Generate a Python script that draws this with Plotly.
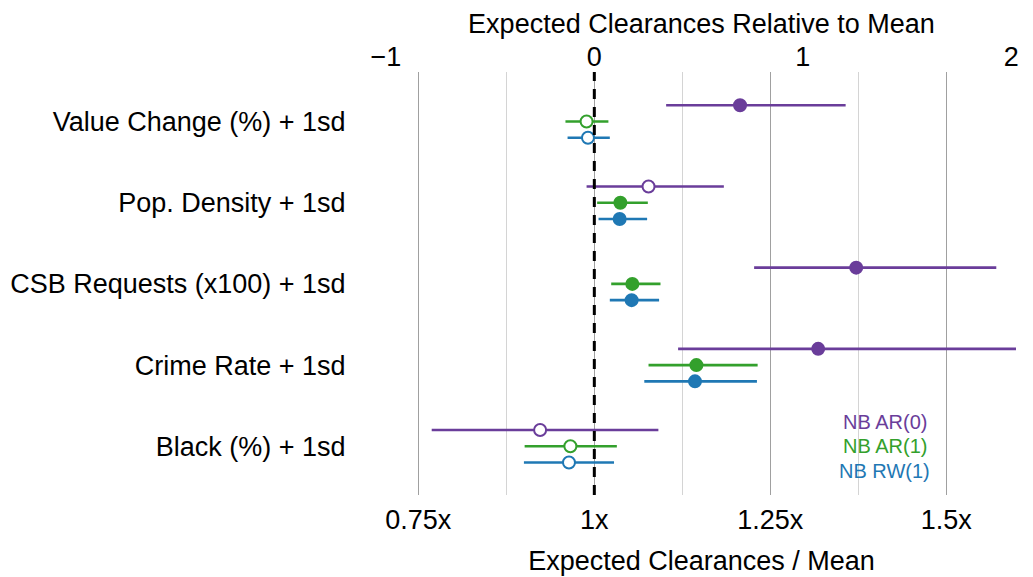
import plotly.graph_objects as go

variables = ["Value Change (%) + 1sd", "Pop. Density + 1sd", "CSB Requests (x100) + 1sd",
             "Crime Rate + 1sd", "Black (%) + 1sd"]
models = ["NB AR(0)", "NB AR(1)", "NB RW(1)"]
colors = ["#6a3d9a", "#33a02c", "#1f78b4"]

ar0_est = [1.207, 1.077, 1.372, 1.318, 0.923]
ar0_lo = [1.102, 0.989, 1.227, 1.119, 0.769]
ar0_hi = [1.357, 1.184, 1.571, 1.599, 1.091]

ar1_est = [0.989, 1.037, 1.054, 1.145, 0.966]
ar1_lo = [0.959, 1.004, 1.024, 1.077, 0.901]
ar1_hi = [1.020, 1.076, 1.094, 1.232, 1.032]

rw1_est = [0.991, 1.036, 1.053, 1.143, 0.964]
rw1_lo = [0.962, 1.006, 1.022, 1.071, 0.900]
rw1_hi = [1.022, 1.075, 1.092, 1.231, 1.028]

bottom_ticks = [0.75, 1.0, 1.25, 1.5]
bottom_labels = ["0.75x", "1x", "1.25x", "1.5x"]
top_ticks = [-1, 0, 1, 2]
top_labels = ["\u22121", "0", "1", "2"]

FONT = "Liberation Sans, Arial, Helvetica, sans-serif"
FS = 27

series = [(ar0_est, ar0_lo, ar0_hi), (ar1_est, ar1_lo, ar1_hi), (rw1_est, rw1_lo, rw1_hi)]
offsets = [-0.2, 0.0, 0.2]

fig = go.Figure()
for m, (est, lo, hi), col, off in zip(models, series, colors, offsets):
    ys = [i + off for i in range(len(variables))]
    fills = [col if (l > 1 or h < 1) else "white" for l, h in zip(lo, hi)]
    fig.add_trace(go.Scatter(
        x=est, y=ys, mode="markers", name=m, showlegend=False,
        error_x=dict(type="data", symmetric=False,
                     array=[h - e for h, e in zip(hi, est)],
                     arrayminus=[e - l for e, l in zip(est, lo)],
                     color=col, thickness=2.6, width=0),
        marker=dict(size=12, color=fills, line=dict(color=col, width=2)),
        xaxis="x", yaxis="y", cliponaxis=False,
    ))

# top-axis scale: 1 unit top = k units bottom, 0 top = 1x bottom
k = 0.2962
xr = [0.6984, 1.6061]
xr2 = [(xr[0] - 1) / k, (xr[1] - 1) / k]

fig.add_trace(go.Scatter(x=[0], y=[0], xaxis="x2", yaxis="y", mode="markers",
                         marker=dict(opacity=0), showlegend=False, hoverinfo="skip"))

fig.add_shape(type="line", xref="x", yref="paper", x0=1, x1=1, y0=0, y1=1,
              line=dict(color="black", width=3, dash="10px,8px"), layer="above")

legend_y = [0.1732, 0.115, 0.0567]
for m, col, ly in zip(models, colors, legend_y):
    fig.add_annotation(text=m, x=0.7864, y=ly, xref="paper", yref="paper",
                       showarrow=False, xanchor="center", yanchor="middle",
                       font=dict(family=FONT, size=20, color=col))

fig.update_layout(
    width=1033, height=577,
    margin=dict(l=382, r=12, t=72, b=82, autoexpand=False),
    paper_bgcolor="white", plot_bgcolor="white",
    font=dict(family=FONT, size=FS, color="black"),
    xaxis=dict(range=xr, tickvals=bottom_ticks, ticktext=bottom_labels, automargin=False,
               showgrid=True, gridcolor="#a0a0a0", gridwidth=1,
               minor=dict(tick0=0.75, dtick=0.125, showgrid=True, gridcolor="#d4d4d4", gridwidth=1),
               zeroline=False, showline=False, ticks="outside", ticklen=1,
               tickcolor="rgba(0,0,0,0)",
               title=dict(text="Expected Clearances / Mean", standoff=16,
                          font=dict(family=FONT, size=FS))),
    xaxis2=dict(range=xr2, overlaying="x", side="top", anchor="y", automargin=False,
                tickvals=top_ticks, ticktext=top_labels, showgrid=False,
                zeroline=False, showline=False, ticks="", 
                title=dict(text="Expected Clearances Relative to Mean", standoff=0,
                           font=dict(family=FONT, size=FS))),
    yaxis=dict(range=[4.6, -0.61], tickvals=list(range(len(variables))), automargin=False,
               ticktext=variables, showgrid=False, zeroline=False, showline=False,
               ticks="outside", ticklen=30, tickcolor="rgba(0,0,0,0)"),
)

fig.write_html("out.html")
